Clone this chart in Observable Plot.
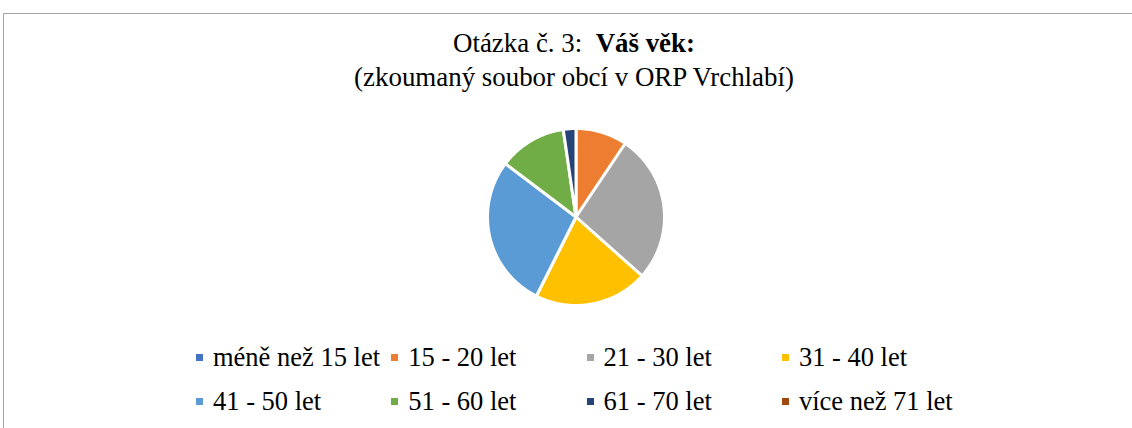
<!DOCTYPE html>
<html><head><meta charset="utf-8">
<script src="https://cdn.jsdelivr.net/npm/d3@7"></script>
<script src="https://cdn.jsdelivr.net/npm/@observablehq/plot@0.6"></script>
<style>
html,body{margin:0;padding:0;background:#fff;overflow:hidden;width:1132px;height:428px}
#wrap{position:relative;width:1132px;height:428px;overflow:hidden}
#hline{position:absolute;left:3px;top:13px;width:1129px;height:1px;background:#a6a6a6}
#vline{position:absolute;left:3px;top:13px;width:1px;height:415px;background:#a6a6a6}
.serif{font-family:"Times New Roman","Liberation Serif",Times,"DejaVu Serif",serif}
#title{position:absolute;left:0;width:1148px;top:25.5px;text-align:center;font-size:26.9px;line-height:34px;color:#000;white-space:pre}
#chart{position:absolute;left:0;top:125px}
#legend{position:absolute;left:196px;top:334.75px;display:grid;grid-template-columns:repeat(4,195.3px);grid-auto-rows:44.5px;font-size:26.5px;color:#000}
.item{display:flex;align-items:center;white-space:nowrap}
.sw{width:7px;height:7px;margin-right:10px;flex:none}
</style>
</head><body>
<div id="wrap">
<div id="hline"></div>
<div id="vline"></div>
<div id="title" class="serif">Otázka č. 3:  <b>Váš věk:</b>
(zkoumaný soubor obcí v ORP Vrchlabí)</div>
<div id="chart"></div>
<div id="legend" class="serif"></div>
</div>
<script>
const categories = ["méně než 15 let", "15 - 20 let", "21 - 30 let", "31 - 40 let", "41 - 50 let", "51 - 60 let", "61 - 70 let", "více než 71 let"];
const values = [0, 9.4, 27.2, 20.8, 27.9, 12.4, 2.3, 0];
const colors = ["#4472C4", "#ED7D31", "#A5A5A5", "#FFC000", "#5B9BD5", "#70AD47", "#264478", "#9E480E"];

const data = categories.map((c, i) => ({category: c, value: values[i]}));
const arcs = d3.pie().sort(null).value(d => d.value)(data);
const features = arcs.filter(a => a.data.value > 0).map(a => {
  const ring = [[0, 0]];
  const n = Math.max(2, Math.ceil((a.endAngle - a.startAngle) / (Math.PI / 180)));
  for (let k = 0; k <= n; k++) {
    const t = a.startAngle + (a.endAngle - a.startAngle) * k / n;
    ring.push([Math.sin(t), Math.cos(t)]);
  }
  ring.push([0, 0]);
  return {type: "Feature", properties: {category: a.data.category}, geometry: {type: "Polygon", coordinates: [ring]}};
});

const cx = 575.5, cy = 91.5, r = 88.5;
const projection = d3.geoIdentity().reflectY(true).scale(r).translate([cx, cy]);

const chart = Plot.plot({
  width: 1132,
  height: 184,
  margin: 0,
  projection,
  color: {type: "ordinal", domain: categories, range: colors},
  marks: [
    Plot.geo(features, {fill: d => d.properties.category, stroke: "white", strokeWidth: 3})
  ]
});
document.getElementById("chart").appendChild(chart);

const legend = document.getElementById("legend");
categories.forEach((c, i) => {
  const item = document.createElement("div");
  item.className = "item";
  const sw = document.createElement("span");
  sw.className = "sw";
  sw.style.background = colors[i];
  const label = document.createElement("span");
  label.textContent = c;
  item.appendChild(sw);
  item.appendChild(label);
  legend.appendChild(item);
});
</script>
</body></html>
